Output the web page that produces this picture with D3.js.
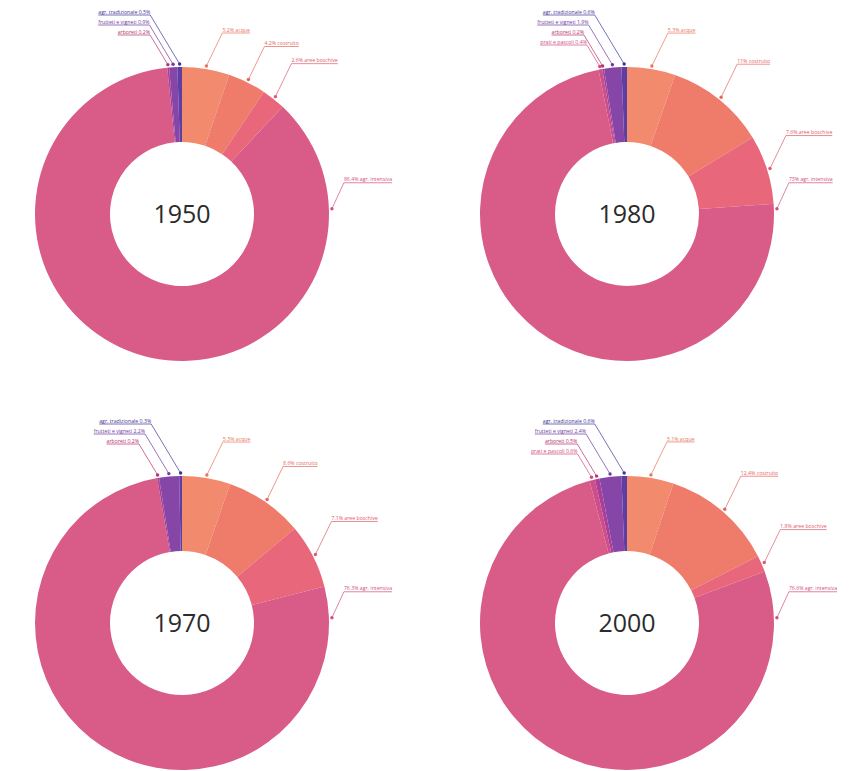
<!DOCTYPE html>
<html>
<head>
<meta charset="utf-8">
<script src="https://cdn.jsdelivr.net/npm/d3@7"></script>
<style>
  html, body { margin: 0; padding: 0; background: #fff; }
  svg { display: block; }
</style>
</head>
<body>
<svg id="chart" width="849" height="771"></svg>
<script>
// Land-use categories, in clockwise order starting from 12 o'clock
const categories = ["acque", "costruito", "aree boschive", "agr. intensiva",
                    "prati e pascoli", "arboreti", "frutteti e vigneti", "agr. tradizionale"];
const years = ["1950", "1980", "1970", "2000"];

// Share of surface (%) for each category
const values1950 = [5.2, 4.2, 2.6, 86.4, 0, 0.2, 0.9, 0.5];
const values1980 = [5.3, 11, 7.6, 73.0, 0.4, 0.2, 1.9, 0.6];
const values1970 = [5.3, 8.6, 7.1, 76.3, 0, 0.2, 2.2, 0.3];
const values2000 = [5.1, 12.4, 1.8, 76.6, 0.6, 0.5, 2.4, 0.6];
const seriesByYear = [values1950, values1980, values1970, values2000];

const sliceColors = ["#f28b6d", "#ef7b6b", "#e8677a", "#d95b88",
                     "#cc4f8c", "#ab3f94", "#8646a8", "#5f3ea3"];
const labelColors = ["#e9735c", "#e5665f", "#de5a6c", "#d44f7c",
                     "#cf4a80", "#b8306c", "#6f3aa0", "#3f3496"];

const svg = d3.select("#chart");
const col = d3.scalePoint().domain([0, 1]).range([182, 627]);
const row = d3.scalePoint().domain([0, 1]).range([214, 623]);

const rOuter = 147, rInner = 72;
const pie = d3.pie().sort(null).value(d => d.value);
const arc = d3.arc().innerRadius(rInner).outerRadius(rOuter);
const maxLabelAngle = 88 * Math.PI / 180;
const labelFont = 5.2;

years.forEach((year, yi) => {
  const cx = col(yi % 2), cy = row(Math.floor(yi / 2));
  const data = categories.map((c, i) => ({ cat: c, idx: i, value: seriesByYear[yi][i] }));
  const arcs = pie(data).filter(a => a.data.value > 0);

  const g = svg.append("g").attr("transform", `translate(${cx},${cy})`);

  g.selectAll("path.slice").data(arcs).join("path")
    .attr("class", "slice")
    .attr("d", arc)
    .attr("fill", d => sliceColors[d.data.idx]);

  g.append("text")
    .attr("x", 0).attr("y", 0)
    .attr("dy", "0.36em")
    .attr("text-anchor", "middle")
    .attr("font-family", "'Open Sans', sans-serif")
    .attr("font-size", 25)
    .attr("fill", "#2b2b2b")
    .text(year);

  const rDot = rOuter + 3;
  const fmt = v => String(v) + "%";

  // Right-hand labels (main categories)
  arcs.filter(a => a.data.idx < 4).forEach(a => {
    const mid = (a.startAngle + a.endAngle) / 2;
    const ang = Math.min(mid, maxLabelAngle);
    const clamped = mid > maxLabelAngle;
    const dx = Math.sin(ang) * rDot, dy = -Math.cos(ang) * rDot;
    const ex = dx + (clamped ? 12 : 16), ey = dy - (clamped ? 26 : 33);
    const color = labelColors[a.data.idx];
    const lg = g.append("g");
    lg.append("circle").attr("cx", dx).attr("cy", dy).attr("r", 1.7).attr("fill", color);
    lg.append("line").attr("x1", dx).attr("y1", dy).attr("x2", ex).attr("y2", ey)
      .attr("stroke", color).attr("stroke-width", 0.7);
    const t = lg.append("text")
      .attr("x", ex).attr("y", ey - 1.4)
      .attr("font-family", "'Open Sans', sans-serif")
      .attr("font-size", labelFont)
      .attr("fill", color)
      .text(fmt(a.data.value) + " " + a.data.cat);
    const w = t.node().getComputedTextLength();
    lg.append("line").attr("x1", ex).attr("y1", ey).attr("x2", ex + w).attr("y2", ey)
      .attr("stroke", color).attr("stroke-width", 0.7);
  });

  // Left-hand stacked labels (small categories near the top)
  const small = arcs.filter(a => a.data.idx >= 4).sort((p, q) => q.data.idx - p.data.idx);
  const topY = -rOuter - 52;
  small.forEach((a, i) => {
    const mid = (a.startAngle + a.endAngle) / 2;
    const dx = Math.sin(mid) * rDot, dy = -Math.cos(mid) * rDot;
    const ey = topY + i * 10;
    const ex = dx - (dy - ey) * 0.6;
    const color = labelColors[a.data.idx];
    const lg = g.append("g");
    lg.append("circle").attr("cx", dx).attr("cy", dy).attr("r", 1.7).attr("fill", color);
    lg.append("line").attr("x1", dx).attr("y1", dy).attr("x2", ex).attr("y2", ey)
      .attr("stroke", color).attr("stroke-width", 0.7);
    const t = lg.append("text")
      .attr("x", ex).attr("y", ey - 1.4)
      .attr("text-anchor", "end")
      .attr("font-family", "'Open Sans', sans-serif")
      .attr("font-size", labelFont)
      .attr("fill", color)
      .text(a.data.cat + " " + fmt(a.data.value));
    const w = t.node().getComputedTextLength();
    lg.append("line").attr("x1", ex - w).attr("y1", ey).attr("x2", ex).attr("y2", ey)
      .attr("stroke", color).attr("stroke-width", 0.7);
  });
});
</script>
</body>
</html>
